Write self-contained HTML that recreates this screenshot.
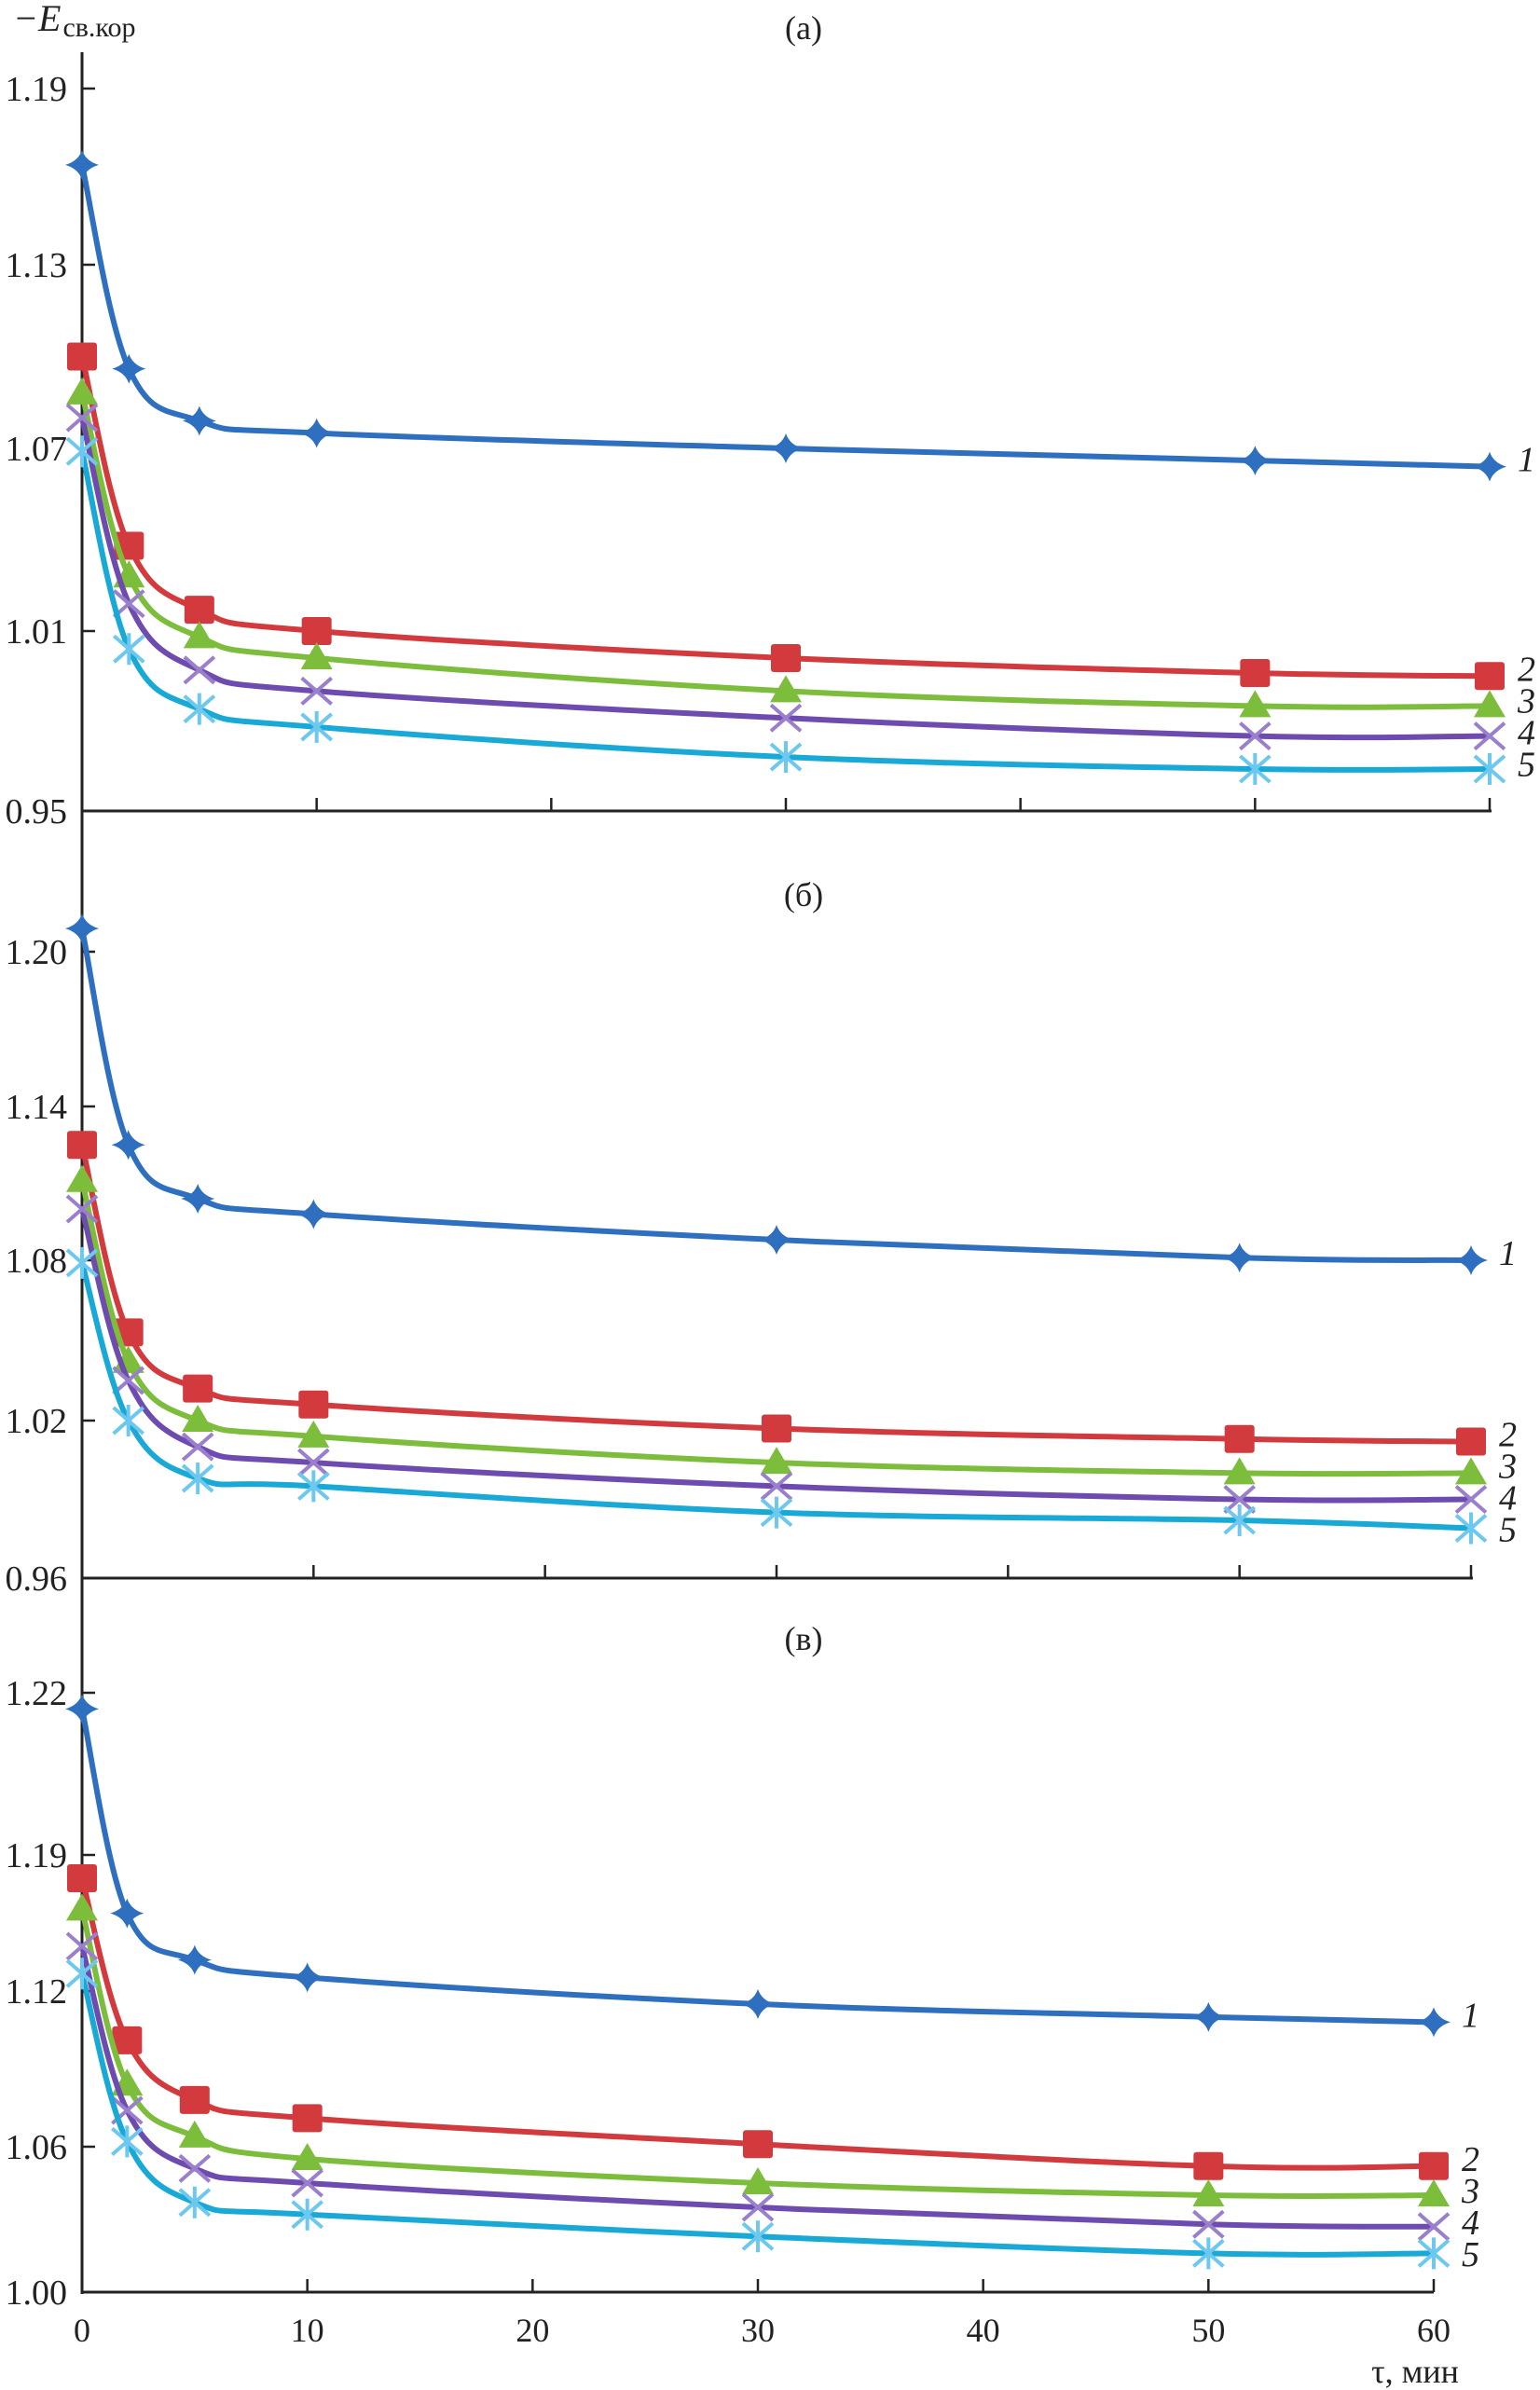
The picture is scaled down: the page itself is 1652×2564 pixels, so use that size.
<!DOCTYPE html>
<html><head><meta charset="utf-8">
<style>
html,body{margin:0;padding:0;background:#fff;}
svg{display:block;font-family:"Liberation Serif",serif;}
</style></head>
<body>
<svg id="chart" width="1652" height="2564" viewBox="0 0 1652 2564" xmlns="http://www.w3.org/2000/svg">
<text x="14" y="33" font-size="40" fill="#222"><tspan font-style="italic">−E</tspan><tspan font-size="30" dx="2" dy="6">св.кор</tspan></text>
<text x="1518" y="2556" font-size="36" fill="#222" text-anchor="middle">τ, мин</text>
<line x1="88" y1="56" x2="88" y2="2461" stroke="#222" stroke-width="3"/>
<g id="plots"></g>
</svg>
<script>
const times = [0, 2, 5, 10, 30, 50, 60];
const seriesNames = ["1", "2", "3", "4", "5"];
// panel (a)
const panelA_s1 = [1.164, 1.096, 1.079, 1.075, 1.070, 1.066, 1.064];
const panelA_s2 = [1.100, 1.038, 1.017, 1.010, 1.001, 0.996, 0.995];
const panelA_s3 = [1.088, 1.028, 1.008, 1.001, 0.990, 0.985, 0.985];
const panelA_s4 = [1.080, 1.019, 0.997, 0.990, 0.981, 0.975, 0.975];
const panelA_s5 = [1.069, 1.004, 0.984, 0.978, 0.968, 0.964, 0.964];
const panelA_ticks = [0.95, 1.01, 1.07, 1.13, 1.19];
const panelA_tickLabels = ["0.95", "1.01", "1.07", "1.13", "1.19"];
// panel (b)
const panelB_s1 = [1.209, 1.125, 1.104, 1.098, 1.088, 1.081, 1.080];
const panelB_s2 = [1.125, 1.053, 1.032, 1.026, 1.017, 1.013, 1.012];
const panelB_s3 = [1.111, 1.042, 1.020, 1.014, 1.004, 1.000, 1.000];
const panelB_s4 = [1.100, 1.035, 1.010, 1.004, 0.995, 0.990, 0.990];
const panelB_s5 = [1.079, 1.020, 0.998, 0.995, 0.985, 0.982, 0.979];
const panelB_ticks = [0.96, 1.02, 1.08, 1.14, 1.20];
const panelB_tickLabels = ["0.96", "1.02", "1.08", "1.14", "1.20"];
// panel (c) — printed tick labels are irregular; scale is piecewise between them
const panelC_s1 = [1.217, 1.160, 1.136, 1.127, 1.115, 1.110, 1.108];
const panelC_s2 = [1.178, 1.101, 1.078, 1.071, 1.061, 1.052, 1.052];
const panelC_s3 = [1.162, 1.084, 1.064, 1.055, 1.045, 1.040, 1.040];
const panelC_s4 = [1.143, 1.074, 1.051, 1.045, 1.035, 1.028, 1.027];
const panelC_s5 = [1.129, 1.062, 1.037, 1.032, 1.023, 1.016, 1.016];
const panelC_ticks = [1.00, 1.06, 1.12, 1.19, 1.22];
const panelC_tickLabels = ["1.00", "1.06", "1.12", "1.19", "1.22"];
const xTicks = [0, 10, 20, 30, 40, 50, 60];
const xTickLabels = ["0", "10", "20", "30", "40", "50", "60"];

const NS = "http://www.w3.org/2000/svg";
const colors = ["#2f6fc0", "#d23a3e", "#7dbd3c", "#6e4caf", "#19a9d6"];
const markerColors = ["#2f6fc0", "#d23a3e", "#7dbd3c", "#9a80cc", "#6cc8ef"];

const panels = [
  {id:"a", title:"(а)", titleY:42, series:[panelA_s1,panelA_s2,panelA_s3,panelA_s4,panelA_s5],
   ticks:panelA_ticks, labels:panelA_tickLabels, tickPx:[870,677,481,284,95], x60:1598, axisEnd:1600, bottomY:870, xLabels:false},
  {id:"b", title:"(б)", titleY:972, series:[panelB_s1,panelB_s2,panelB_s3,panelB_s4,panelB_s5],
   ticks:panelB_ticks, labels:panelB_tickLabels, tickPx:[1693,1524,1352,1187,1021], x60:1578, axisEnd:1580, bottomY:1693, xLabels:false},
  {id:"c", title:"(в)", titleY:1770, series:[panelC_s1,panelC_s2,panelC_s3,panelC_s4,panelC_s5],
   ticks:panelC_ticks, labels:panelC_tickLabels, tickPx:[2459,2303,2136,1990,1816], x60:1538, axisEnd:1538, bottomY:2459, xLabels:true}
];

const root = document.getElementById("plots");
function mk(tag, attrs, parent){
  const e = document.createElementNS(NS, tag);
  for (const k in attrs) e.setAttribute(k, attrs[k]);
  (parent||root).appendChild(e);
  return e;
}
function smoothPath(pts){
  let d = "M"+pts[0][0]+","+pts[0][1];
  for (let i=0;i<pts.length-1;i++){
    const p0=pts[Math.max(0,i-1)], p1=pts[i], p2=pts[i+1], p3=pts[Math.min(pts.length-1,i+2)];
    const t=0.18;
    const c1x=p1[0]+(p2[0]-p0[0])*t, c1y=p1[1]+(p2[1]-p0[1])*t;
    const c2x=p2[0]-(p3[0]-p1[0])*t, c2y=p2[1]-(p3[1]-p1[1])*t;
    d+=" C"+c1x+","+c1y+" "+c2x+","+c2y+" "+p2[0]+","+p2[1];
  }
  return d;
}
function drawMarker(g, k, x, y){
  const c = markerColors[k];
  let m;
  if (k===0){
    m = mk("path",{d:`M${x-18},${y} Q${x-4},${y-4} ${x},${y-16} Q${x+4},${y-4} ${x+18},${y} Q${x+4},${y+4} ${x},${y+16} Q${x-4},${y+4} ${x-18},${y}Z`, fill:c}, g);
  } else if (k===1){
    m = mk("rect",{x:x-16,y:y-15,width:32,height:30,rx:3,fill:c}, g);
  } else if (k===2){
    m = mk("path",{d:`M${x},${y-17} L${x+17},${y+12} L${x-17},${y+12}Z`, fill:c}, g);
  } else if (k===3){
    m = mk("path",{d:`M${x-16},${y-14} L${x+16},${y+14} M${x+16},${y-14} L${x-16},${y+14}`, stroke:c, "stroke-width":4, fill:"none"}, g);
  } else {
    m = mk("path",{d:`M${x-16},${y-14} L${x+16},${y+14} M${x+16},${y-14} L${x-16},${y+14} M${x},${y-17} L${x},${y+17}`, stroke:c, "stroke-width":4, fill:"none"}, g);
  }
  
  
}

panels.forEach(p=>{
  const g = mk("g",{});
  
  
  const xs = t => 88 + (p.x60-88)*t/60;
  const ys = v => {
    const T=p.ticks, P=p.tickPx;
    let i=0;
    if (v<=T[0]) i=0; else if (v>=T[T.length-1]) i=T.length-2;
    else { while (i<T.length-2 && v>T[i+1]) i++; }
    return P[i] + (v-T[i])/(T[i+1]-T[i])*(P[i+1]-P[i]);
  };
  const title = mk("text",{x:862,y:p.titleY,"font-size":36,"text-anchor":"middle",fill:"#222"},g);
  title.textContent = p.title;
  
  
  const ax = mk("line",{x1:88,y1:p.bottomY,x2:p.axisEnd,y2:p.bottomY,stroke:"#222","stroke-width":3},g);
  
  
  xTicks.forEach((t,i)=>{
    if (t===0) return;
    const tk = mk("line",{x1:xs(t),y1:p.bottomY,x2:xs(t),y2:p.bottomY-14,stroke:"#222","stroke-width":2.5},g);
    
    
  });
  if (p.xLabels){
    xTicks.forEach((t,i)=>{
      const tl = mk("text",{x:xs(t),y:2512,"font-size":36,"text-anchor":"middle",fill:"#222"},g);
      tl.textContent = xTickLabels[i];
      
      
    });
  }
  p.ticks.forEach((v,i)=>{
    const y = p.tickPx[i];
    const tk = mk("line",{x1:88,y1:y,x2:102,y2:y,stroke:"#222","stroke-width":2.5},g);
    
    
    const tl = mk("text",{x:72,y:y+13,"font-size":38,"text-anchor":"end",fill:"#222"},g);
    tl.textContent = p.labels[i];
    
    
  });
  let prevLabelY = -1e9;
  p.series.forEach((vals,k)=>{
    const pts = vals.map((v,i)=>[xs(times[i]), ys(v)]);
    const line = mk("path",{d:smoothPath(pts),fill:"none",stroke:colors[k],"stroke-width":6,"stroke-linecap":"round","stroke-linejoin":"round"},g);
    
    
    pts.forEach(pt=>drawMarker(g,k,pt[0],pt[1]));
    const last = pts[pts.length-1];
    let ly = Math.max(last[1]-8, prevLabelY+34);
    prevLabelY = ly;
    const lab = mk("text",{x:last[0]+30,y:ly+13,"font-size":38,"font-style":"italic",fill:"#222"},g);
    lab.textContent = seriesNames[k];
    
    
  });
});
</script>
</body></html>
